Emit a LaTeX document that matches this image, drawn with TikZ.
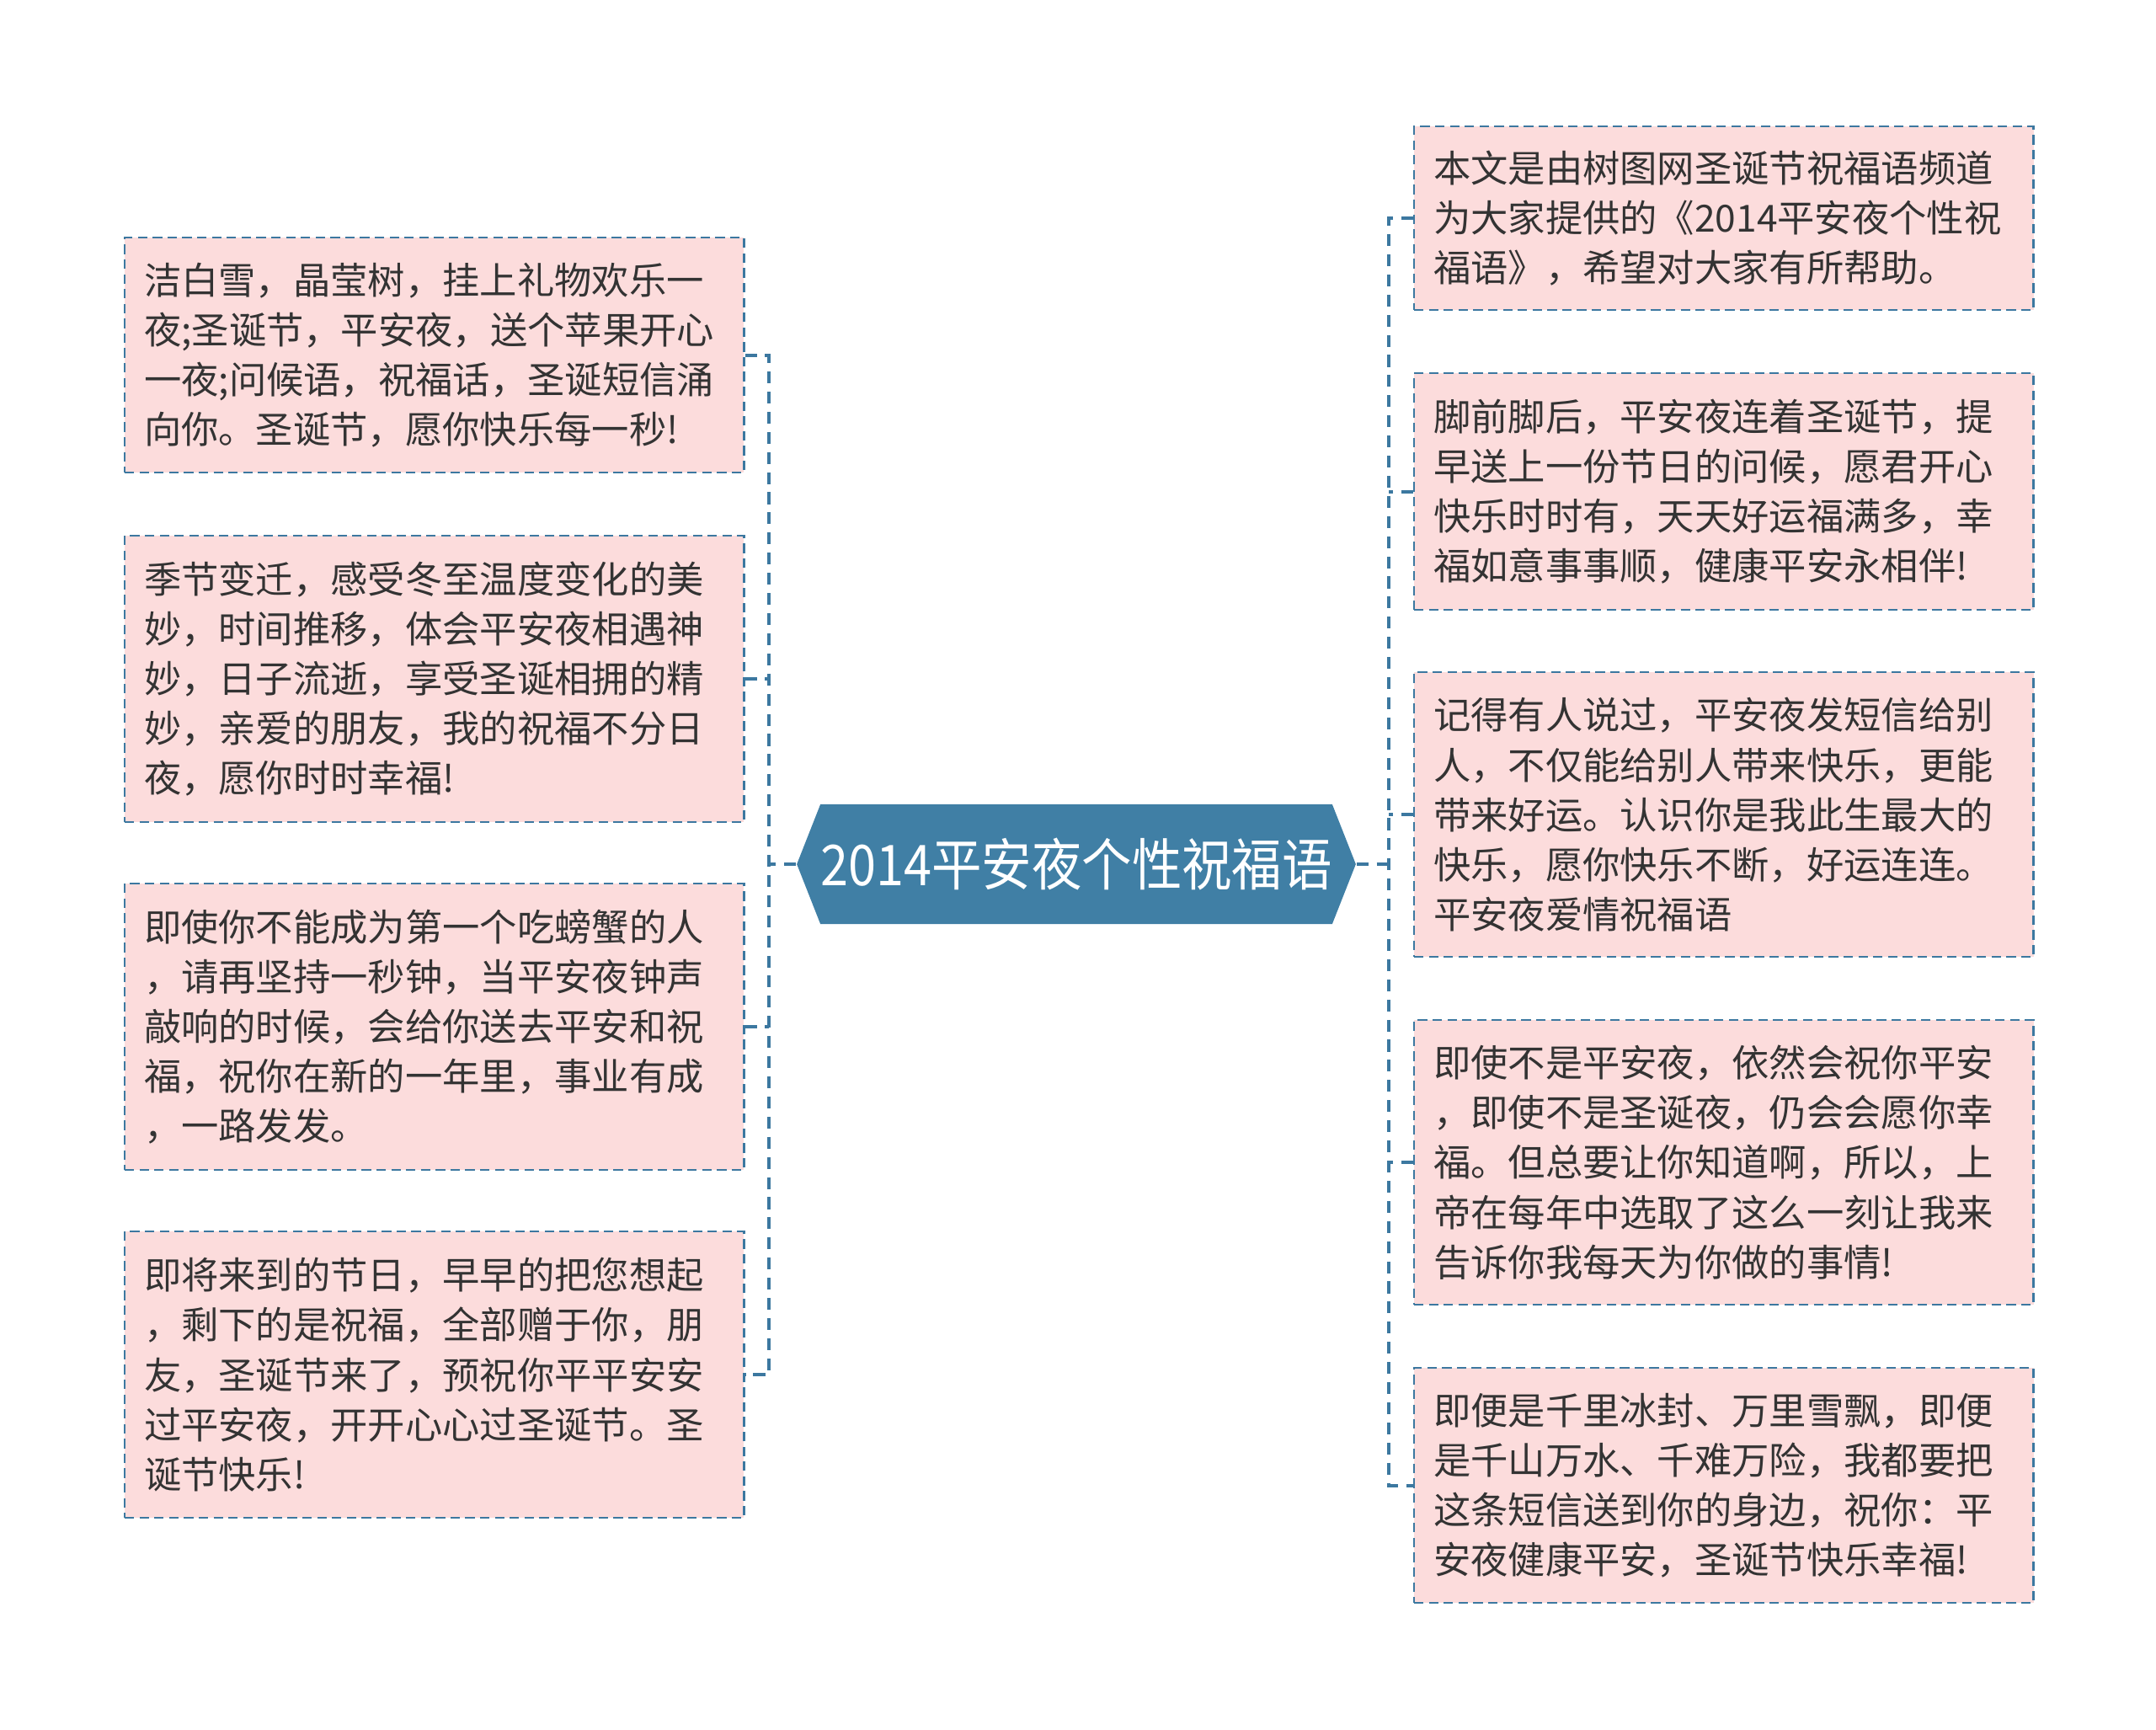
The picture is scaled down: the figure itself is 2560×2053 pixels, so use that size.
\documentclass[tikz,border=0pt]{standalone}
\usepackage{fontspec}
\setmainfont{Noto Sans CJK SC}
\newfontfamily\hubfont[FakeStretch=0.89]{Noto Sans CJK SC}
\usetikzlibrary{shapes.symbols}
\definecolor{hubblue}{RGB}{64,127,165}
\definecolor{linkblue}{RGB}{60,120,160}
\definecolor{notepink}{RGB}{252,220,220}
\definecolor{notetext}{RGB}{51,51,51}

\begin{document}
\begin{tikzpicture}[x=0.01cm,y=-0.01cm,
  hub/.style={signal,signal to=west and east,signal pointer angle=137,fill=hubblue,text=white,
    minimum width=6.22cm,minimum height=1.42cm,inner sep=0pt,font=\hubfont\fontsize{19pt}{23pt}\selectfont},
  note/.style={draw=linkblue,fill=notepink,text=notetext,line width=0.6pt,dash pattern=on 3.2pt off 1.8pt,
    text width=6.89cm,inner xsep=0.23cm,inner ysep=0pt,align=left,font=\fontsize{12.6pt}{16.8pt}\selectfont},
  link/.style={draw=linkblue,line width=1.1pt,dash pattern=on 4pt off 2.8pt}]
  \useasboundingbox (0,0) rectangle (2560,2053);

  \node[hub] (hub) at (1278,1026) {2014平安夜个性祝福语};

  % left side
  \node[note,anchor=north west,minimum height=2.79cm] (l1) at (147,281)
    {洁白雪，晶莹树，挂上礼物欢乐一\\夜;圣诞节，平安夜，送个苹果开心\\一夜;问候语，祝福话，圣诞短信涌\\向你。圣诞节，愿你快乐每一秒!};
  \node[note,anchor=north west,minimum height=3.40cm] (l2) at (147,635)
    {季节变迁，感受冬至温度变化的美\\妙，时间推移，体会平安夜相遇神\\妙，日子流逝，享受圣诞相拥的精\\妙，亲爱的朋友，我的祝福不分日\\夜，愿你时时幸福!};
  \node[note,anchor=north west,minimum height=3.40cm] (l3) at (147,1048)
    {即使你不能成为第一个吃螃蟹的人\\，请再坚持一秒钟，当平安夜钟声\\敲响的时候，会给你送去平安和祝\\福，祝你在新的一年里，事业有成\\，一路发发。};
  \node[note,anchor=north west,minimum height=3.40cm] (l4) at (147,1461)
    {即将来到的节日，早早的把您想起\\，剩下的是祝福，全部赠于你，朋\\友，圣诞节来了，预祝你平平安安\\过平安夜，开开心心过圣诞节。圣\\诞节快乐!};

  % right side
  \node[note,anchor=north west,minimum height=2.18cm] (r1) at (1678,149)
    {本文是由树图网圣诞节祝福语频道\\为大家提供的《2014平安夜个性祝\\福语》，希望对大家有所帮助。};
  \node[note,anchor=north west,minimum height=2.81cm] (r2) at (1678,442)
    {脚前脚后，平安夜连着圣诞节，提\\早送上一份节日的问候，愿君开心\\快乐时时有，天天好运福满多，幸\\福如意事事顺，健康平安永相伴!};
  \node[note,anchor=north west,minimum height=3.38cm] (r3) at (1678,797)
    {记得有人说过，平安夜发短信给别\\人，不仅能给别人带来快乐，更能\\带来好运。认识你是我此生最大的\\快乐，愿你快乐不断，好运连连。\\平安夜爱情祝福语};
  \node[note,anchor=north west,minimum height=3.38cm] (r4) at (1678,1210)
    {即使不是平安夜，依然会祝你平安\\，即使不是圣诞夜，仍会会愿你幸\\福。但总要让你知道啊，所以，上\\帝在每年中选取了这么一刻让我来\\告诉你我每天为你做的事情!};
  \node[note,anchor=north west,minimum height=2.79cm] (r5) at (1678,1623)
    {即便是千里冰封、万里雪飘，即便\\是千山万水、千难万险，我都要把\\这条短信送到你的身边，祝你：平\\安夜健康平安，圣诞节快乐幸福!};

  % connectors
  \coordinate (lj) at (913,1026);
  \coordinate (rj) at (1649,1026);
  \draw[link] (hub.west) -- (lj);
  \draw[link] (l1.east) -| (lj) |- (l4.east);
  \foreach \n in {l2,l3} \draw[link] (\n.east) -- (\n.east -| lj);
  \draw[link] (hub.east) -- (rj);
  \draw[link] (r1.west) -| (rj) |- (r5.west);
  \foreach \n in {r2,r3,r4} \draw[link] (\n.west) -- (\n.west -| rj);
\end{tikzpicture}
\end{document}
